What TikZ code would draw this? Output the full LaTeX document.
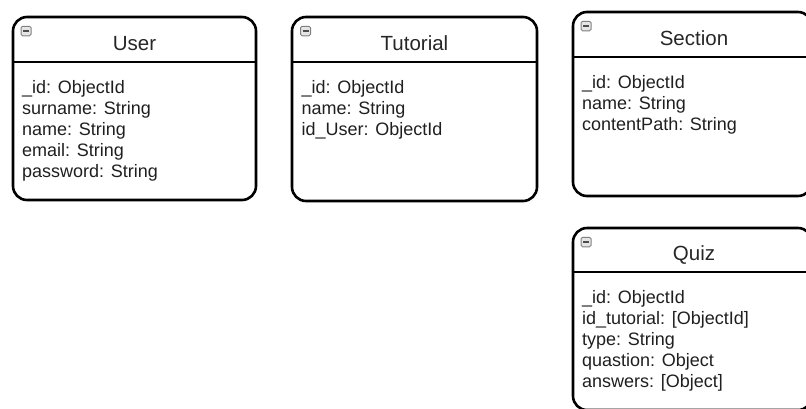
\documentclass[tikz,border=0pt]{standalone}
\usepackage{fontspec}
\setmainfont{Liberation Sans}
\usetikzlibrary{calc}
\tikzset{entity/.style={draw=black, line width=2.6pt, rounded corners=14pt, inner sep=0pt}}
\tikzset{sep/.style={draw=black, line width=2.4pt}}
\tikzset{head/.style={font=\fontsize{20.5}{24}\selectfont, text=black!85, inner sep=0pt, anchor=base}}
\tikzset{field/.style={font=\fontsize{18}{21}\selectfont, text=black!88, inner sep=0pt, anchor=base west}}
\tikzset{icon/.style={draw=black!50, fill=black!10, line width=1pt, minimum width=10pt, minimum height=9.5pt, inner sep=0pt, rounded corners=1.5pt}}
% collapse icon: #1 name, #2 centre
\newcommand{\collapsebox}[2]{
  \node[icon] (#1) at (#2) {};
  \draw[black!70, line width=1.3pt] ($(#1.center)+(-3,0)$) -- ($(#1.center)+(3,0)$);
}

\begin{document}
\begin{tikzpicture}[x=1pt, y=-1pt]
  \useasboundingbox (0,0) rectangle (806,408);
  \clip (0,0) rectangle (806,408);

  % User
  \node[entity, minimum width=243pt, minimum height=183pt] (user) at (134.5,108.5) {};
  \draw[sep] (user.west |- 0,62) -- (user.east |- 0,62);
  \collapsebox{user-i}{26,31}
  \node[head] (user-t) at (134.5,50) {User};
  \foreach \f [count=\i] in {\_id: ObjectId, surname: String, name: String, email: String, password: String}
    \node[field] (user-\i) at (22, 72+21*\i) {\f};

  % Tutorial
  \node[entity, minimum width=245pt, minimum height=184pt] (tut) at (414.5,109) {};
  \draw[sep] (tut.west |- 0,62) -- (tut.east |- 0,62);
  \collapsebox{tut-i}{305.5,31}
  \node[head] (tut-t) at (414.5,50) {Tutorial};
  \foreach \f [count=\i] in {\_id: ObjectId, name: String, id\_User: ObjectId}
    \node[field] (tut-\i) at (301.5, 72+21*\i) {\f};

  % Section
  \node[entity, minimum width=239pt, minimum height=184pt] (sec) at (692.5,104) {};
  \draw[sep] (sec.west |- 0,57) -- (sec.east |- 0,57);
  \collapsebox{sec-i}{586,26}
  \node[head] (sec-t) at (694,45) {Section};
  \foreach \f [count=\i] in {\_id: ObjectId, name: String, contentPath: String}
    \node[field] (sec-\i) at (582, 67+21*\i) {\f};

  % Quiz
  \node[entity, minimum width=239pt, minimum height=182pt] (quiz) at (692.5,319) {};
  \draw[sep] (quiz.west |- 0,272) -- (quiz.east |- 0,272);
  \collapsebox{quiz-i}{586,242}
  \node[head] (quiz-t) at (694,260) {Quiz};
  \foreach \f [count=\i] in {\_id: ObjectId, id\_tutorial: [ObjectId], type: String, quastion: Object, answers: [Object]}
    \node[field] (quiz-\i) at (582, 282+21*\i) {\f};
\end{tikzpicture}
\end{document}
